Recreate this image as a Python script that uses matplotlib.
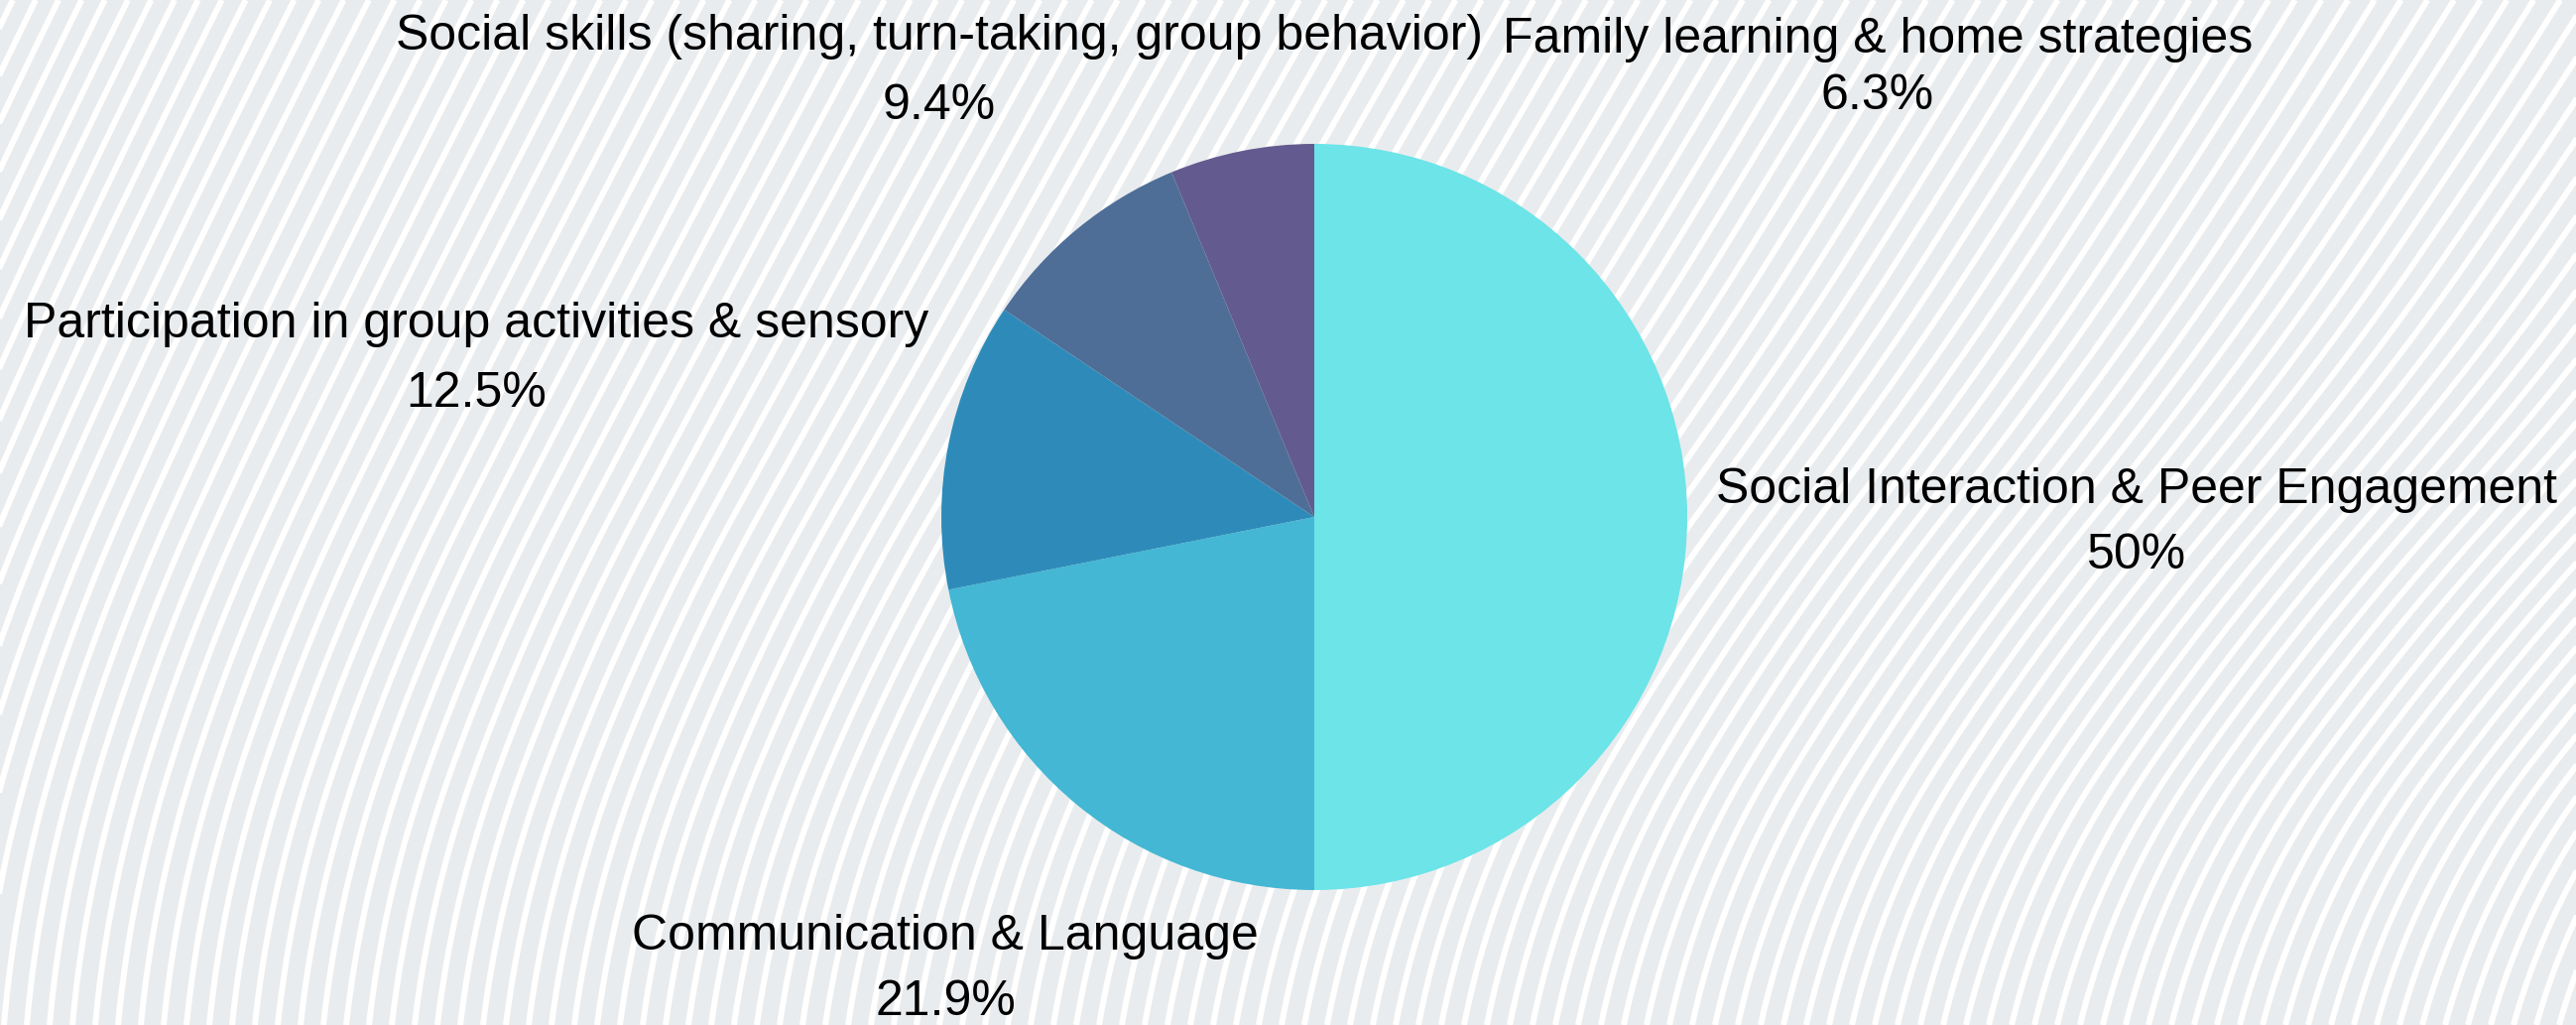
import numpy as np
import matplotlib
matplotlib.use("Agg")
import matplotlib.pyplot as plt
from matplotlib.collections import LineCollection

plt.rcParams['font.family'] = ['Liberation Sans', 'DejaVu Sans']

# data
categories = ['Social Interaction & Peer Engagement',
              'Communication & Language',
              'Participation in group activities & sensory',
              'Social skills (sharing, turn-taking, group behavior)',
              'Family learning & home strategies']
counts = [16, 7, 4, 3, 2]
pct_labels = ['50%', '21.9%', '12.5%', '9.4%', '6.3%']
colors = ['#6ce4e8', '#43b7d4', '#2e8bb9', '#4e6e98', '#635a8f']

W, H = 2597, 1033
fig = plt.figure(figsize=(W / 100, H / 100), dpi=100)

# background: light grey with white curved stripes
bg = fig.add_axes([0, 0, 1, 1])
bg.set_xlim(0, W)
bg.set_ylim(H, 0)
bg.axis('off')
bg.add_patch(plt.Rectangle((0, 0), W, H, color='#e9ecee', zorder=0))

# stripe tilt (degrees from horizontal) at left / right edge vs height
v_ctrl = [0.0, 0.25, 0.5, 0.75, 1.0]
tilt_left = [85, 74, 67, 65, 64]
tilt_right = [74, 52, 47, 55, 58]

vs = np.linspace(0, 1, 240)
seeds = np.arange(-1100, W + 40, 23.0)
xs = np.zeros((len(vs), len(seeds)))
xs[0] = seeds
dv = vs[1] - vs[0]
for i in range(1, len(vs)):
    u = np.clip(xs[i - 1] / W, 0, 1)
    a = (np.interp(vs[i - 1], v_ctrl, tilt_left) * (1 - u)
         + np.interp(vs[i - 1], v_ctrl, tilt_right) * u)
    xs[i] = xs[i - 1] + H * dv / np.tan(np.radians(a))
ys = H - vs * H
segs = [np.column_stack([xs[:, k], ys]) for k in range(len(seeds))]
bg.add_collection(LineCollection(segs, colors='white', linewidths=4.3, zorder=1))

# pie
pcx, pcy, pr = 1325, 521, 376
pax = fig.add_axes([(pcx - pr) / W, (H - pcy - pr) / H, 2 * pr / W, 2 * pr / H])
pax.pie(counts, colors=colors, startangle=90, counterclock=False, radius=1,
        wedgeprops=dict(linewidth=0))
pax.set_xlim(-1, 1)
pax.set_ylim(-1, 1)

# label placement (pixel coords: x centre, label baseline, percent baseline)
label_pos = [(2154, 507, 573),
             (953, 957, 1023),
             (480, 340, 410),
             (947, 50, 120),
             (1893, 53, 110)]

fs = 36
for name, pct, (x, y1, y2) in zip(categories, pct_labels, label_pos):
    bg.text(x, y1, name, ha='center', va='baseline', fontsize=fs, color='black', zorder=5)
    bg.text(x, y2, pct, ha='center', va='baseline', fontsize=fs, color='black', zorder=5)

fig.savefig('out.png', dpi=100)
